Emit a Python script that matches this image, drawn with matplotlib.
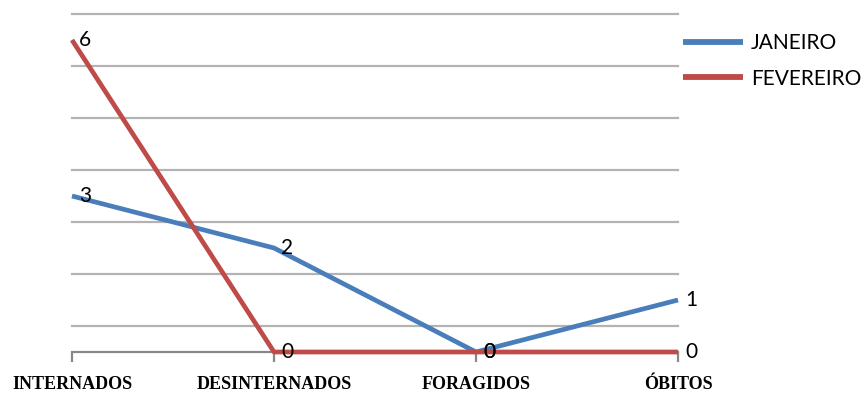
import matplotlib
matplotlib.use("Agg")
import matplotlib.pyplot as plt

categories = ["INTERNADOS", "DESINTERNADOS", "FORAGIDOS", "ÓBITOS"]
janeiro = [3, 2, 0, 1]
fevereiro = [6, 0, 0, 0]
series_names = ["JANEIRO", "FEVEREIRO"]
colors = ["#4a7ebb", "#be4b48"]

W, H, DPI = 867, 394, 100
fig = plt.figure(figsize=(W / DPI, H / DPI), dpi=DPI)
left, right = 72 / W, 678 / W
bottom, top = 1 - 352 / H, 1 - 14 / H
ax = fig.add_axes([left, bottom, right - left, top - bottom])

x = list(range(len(categories)))
label_font = ["Lato", "DejaVu Sans"]

for vals, name, col in zip([janeiro, fevereiro], series_names, colors):
    ax.plot(x, vals, color=col, lw=3.4, solid_capstyle="butt",
            solid_joinstyle="round", label=name, zorder=3, clip_on=False)
    for xi, v in zip(x, vals):
        ax.annotate(str(v), (xi, v), xytext=(5, 0), textcoords="offset points",
                    ha="left", va="center", fontsize=15, family=label_font,
                    color="black", zorder=4)

ax.set_xlim(0, len(categories) - 1)
ax.set_ylim(0, 6.5)

# horizontal gridlines
for g in [0.5, 1.5, 2.5, 3.5, 4.5, 5.5, 6.5]:
    ax.axhline(g, color="#b3b3b3", lw=1.6, zorder=1, clip_on=False)

for s in ["top", "right", "left"]:
    ax.spines[s].set_visible(False)
ax.spines["bottom"].set_color("#878787")
ax.spines["bottom"].set_linewidth(1.6)
ax.set_yticks([])
ax.set_xticks(x)
ax.set_xticklabels(categories, family=["Liberation Serif"], fontweight="bold",
                   fontsize=13)
ax.tick_params(axis="x", length=7, width=1.6, color="#878787", pad=10)

leg = fig.legend(loc="upper left", bbox_to_anchor=(683 / W, 1 - 33 / H),
                 frameon=False, handlelength=2.9, handletextpad=0.35,
                 labelspacing=0.75, borderaxespad=0, borderpad=0,
                 prop={"family": label_font, "size": 15})
for h in leg.get_lines():
    h.set_linewidth(4.2)
    h.set_solid_capstyle("butt")

fig.savefig("out.png", dpi=DPI)
